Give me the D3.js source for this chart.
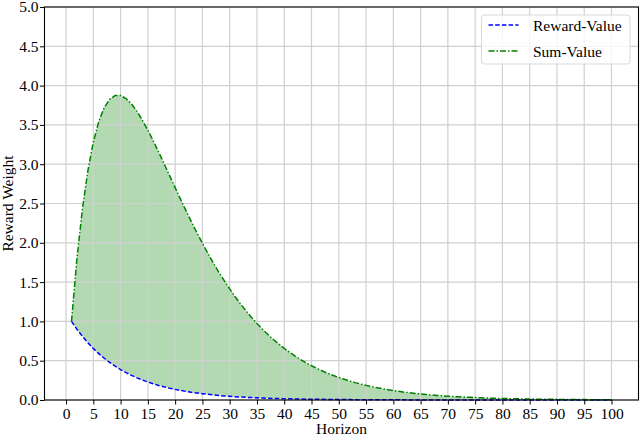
<!DOCTYPE html>
<html>
<head>
<meta charset="utf-8">
<script src="https://cdn.jsdelivr.net/npm/d3@7"></script>
<style>
  body { margin: 0; background: #fff; }
  svg { display: block; }
  text { font-family: "Liberation Serif", "DejaVu Serif", serif; fill: #000; }
</style>
</head>
<body>
<div id="chart"></div>
<script>
// horizon steps (x), one value per step for each curve
var horizon = [
  1, 2, 3, 4, 5, 6, 7, 8, 9, 10, 11, 12, 13, 14, 15, 16, 17, 18, 19, 20,
  21, 22, 23, 24, 25, 26, 27, 28, 29, 30, 31, 32, 33, 34, 35, 36, 37, 38, 39, 40,
  41, 42, 43, 44, 45, 46, 47, 48, 49, 50, 51, 52, 53, 54, 55, 56, 57, 58, 59, 60,
  61, 62, 63, 64, 65, 66, 67, 68, 69, 70, 71, 72, 73, 74, 75, 76, 77, 78, 79, 80,
  81, 82, 83, 84, 85, 86, 87, 88, 89, 90, 91, 92, 93, 94, 95, 96, 97, 98, 99, 100
];

var rewardValue = [
  1.000, 0.900, 0.810, 0.729, 0.656, 0.590, 0.531, 0.478, 0.430, 0.387,
  0.349, 0.314, 0.282, 0.254, 0.229, 0.206, 0.185, 0.167, 0.150, 0.135,
  0.122, 0.109, 0.098, 0.089, 0.080, 0.072, 0.065, 0.058, 0.052, 0.047,
  0.042, 0.038, 0.034, 0.031, 0.028, 0.025, 0.023, 0.020, 0.018, 0.016,
  0.015, 0.013, 0.012, 0.011, 0.010, 0.009, 0.008, 0.007, 0.006, 0.006,
  0.005, 0.005, 0.004, 0.004, 0.003, 0.003, 0.003, 0.002, 0.002, 0.002,
  0.002, 0.002, 0.001, 0.001, 0.001, 0.001, 0.001, 0.001, 0.001, 0.001,
  0.001, 0.001, 0.001, 0.000, 0.000, 0.000, 0.000, 0.000, 0.000, 0.000,
  0.000, 0.000, 0.000, 0.000, 0.000, 0.000, 0.000, 0.000, 0.000, 0.000,
  0.000, 0.000, 0.000, 0.000, 0.000, 0.000, 0.000, 0.000, 0.000, 0.000
];

var sumValue = [
  1.000, 1.800, 2.430, 2.916, 3.281, 3.543, 3.720, 3.826, 3.874, 3.874,
  3.835, 3.766, 3.672, 3.559, 3.432, 3.294, 3.150, 3.002, 2.852, 2.702,
  2.553, 2.407, 2.265, 2.127, 1.994, 1.867, 1.744, 1.628, 1.518, 1.413,
  1.314, 1.221, 1.133, 1.051, 0.973, 0.901, 0.834, 0.770, 0.712, 0.657,
  0.606, 0.559, 0.515, 0.474, 0.436, 0.401, 0.369, 0.339, 0.312, 0.286,
  0.263, 0.241, 0.221, 0.203, 0.186, 0.170, 0.156, 0.143, 0.131, 0.120,
  0.110, 0.100, 0.092, 0.084, 0.077, 0.070, 0.064, 0.058, 0.053, 0.049,
  0.044, 0.041, 0.037, 0.034, 0.031, 0.028, 0.026, 0.023, 0.021, 0.019,
  0.018, 0.016, 0.015, 0.013, 0.012, 0.011, 0.010, 0.009, 0.008, 0.008,
  0.007, 0.006, 0.006, 0.005, 0.005, 0.004, 0.004, 0.004, 0.003, 0.003
];

var xTicks = [0, 5, 10, 15, 20, 25, 30, 35, 40, 45, 50, 55, 60, 65, 70, 75, 80, 85, 90, 95, 100];
var yTicks = [0.0, 0.5, 1.0, 1.5, 2.0, 2.5, 3.0, 3.5, 4.0, 4.5, 5.0];
var seriesNames = ["Reward-Value", "Sum-Value"];

function drawChart() {
  var data = horizon.map(function(h, i) {
    return { h: h, reward: rewardValue[i], sum: sumValue[i] };
  });

  var W = 640, H = 436;
  var m = { left: 44.5, right: 638.5, top: 7, bottom: 400 };
  var fontSize = "15.5px";

  var svg = d3.select("#chart").append("svg")
      .attr("width", W)
      .attr("height", H);

  // matplotlib-like 5% margins on x
  var x = d3.scaleLinear().domain([-3.95, 104.95]).range([m.left, m.right]);
  var y = d3.scaleLinear().domain([0, 5]).range([m.bottom, m.top]);

  // area between the two curves
  var area = d3.area()
      .x(function(d) { return x(d.h); })
      .y0(function(d) { return y(d.reward); })
      .y1(function(d) { return y(d.sum); });

  svg.append("path")
      .datum(data)
      .attr("d", area)
      .attr("fill", "rgb(179,217,179)");

  // grid
  var grid = svg.append("g").attr("class", "grid");
  grid.selectAll(".gx").data(xTicks).enter().append("line")
      .attr("x1", function(d) { return x(d); })
      .attr("x2", function(d) { return x(d); })
      .attr("y1", m.top).attr("y2", m.bottom)
      .attr("stroke", "#d0d0d0").attr("stroke-width", 1.2);
  grid.selectAll(".gy").data(yTicks).enter().append("line")
      .attr("x1", m.left).attr("x2", m.right)
      .attr("y1", function(d) { return y(d); })
      .attr("y2", function(d) { return y(d); })
      .attr("stroke", "#d0d0d0").attr("stroke-width", 1.2);

  // curves
  var rewardLine = d3.line()
      .x(function(d) { return x(d.h); })
      .y(function(d) { return y(d.reward); });
  var sumLine = d3.line()
      .x(function(d) { return x(d.h); })
      .y(function(d) { return y(d.sum); });

  svg.append("path").datum(data)
      .attr("d", rewardLine)
      .attr("fill", "none")
      .attr("stroke", "#0000ff")
      .attr("stroke-width", 1.5)
      .attr("stroke-dasharray", "4.5,2.2");

  svg.append("path").datum(data)
      .attr("d", sumLine)
      .attr("fill", "none")
      .attr("stroke", "#008000")
      .attr("stroke-width", 1.5)
      .attr("stroke-dasharray", "6,2,1.5,2");

  // axes
  var xAxis = d3.axisBottom(x)
      .tickValues(xTicks)
      .tickSize(4.5)
      .tickPadding(3)
      .tickFormat(d3.format("d"));
  var yAxis = d3.axisLeft(y)
      .tickValues(yTicks)
      .tickSize(4.5)
      .tickPadding(1.5)
      .tickFormat(d3.format(".1f"));

  var gx = svg.append("g")
      .attr("transform", "translate(0," + m.bottom + ")")
      .call(xAxis);
  var gy = svg.append("g")
      .attr("transform", "translate(" + m.left + ",0)")
      .call(yAxis);

  [gx, gy].forEach(function(g) {
    g.select(".domain").remove();
    g.selectAll("line").attr("stroke", "#000").attr("stroke-width", 1);
    g.selectAll("text")
        .style("font-family", "'Liberation Serif', serif")
        .style("font-size", fontSize)
        .attr("fill", "#000");
  });

  // spines
  svg.append("rect")
      .attr("x", m.left).attr("y", m.top)
      .attr("width", m.right - m.left).attr("height", m.bottom - m.top)
      .attr("fill", "none")
      .attr("stroke", "#000")
      .attr("stroke-width", 1.1);

  // axis labels
  svg.append("text")
      .attr("x", (m.left + m.right) / 2)
      .attr("y", 433.5)
      .attr("text-anchor", "middle")
      .style("font-size", fontSize)
      .text("Horizon");

  svg.append("text")
      .attr("transform", "translate(12.5," + ((m.top + m.bottom) / 2) + ") rotate(-90)")
      .attr("text-anchor", "middle")
      .style("font-size", fontSize)
      .text("Reward Weight");

  // legend
  var legend = svg.append("g").attr("transform", "translate(481.5,15)");
  legend.append("rect")
      .attr("width", 148.5).attr("height", 49)
      .attr("rx", 3)
      .attr("fill", "#fff").attr("fill-opacity", 0.8)
      .attr("stroke", "#d9d9d9").attr("stroke-width", 1);

  var legendStyles = [
    { color: "#0000ff", dash: "4.5,2.2" },
    { color: "#008000", dash: "6,2,1.5,2" }
  ];

  var item = legend.selectAll(".item").data(seriesNames).enter().append("g")
      .attr("transform", function(d, i) { return "translate(0," + (10 + i * 26) + ")"; });
  item.append("line")
      .attr("x1", 7).attr("x2", 37)
      .attr("y1", 0).attr("y2", 0)
      .attr("stroke", function(d, i) { return legendStyles[i].color; })
      .attr("stroke-width", 1.5)
      .attr("stroke-dasharray", function(d, i) { return legendStyles[i].dash; });
  item.append("text")
      .attr("x", 51.5)
      .attr("y", 5.5)
      .style("font-size", fontSize)
      .text(function(d) { return d; });
}

drawChart();
</script>
</body>
</html>
